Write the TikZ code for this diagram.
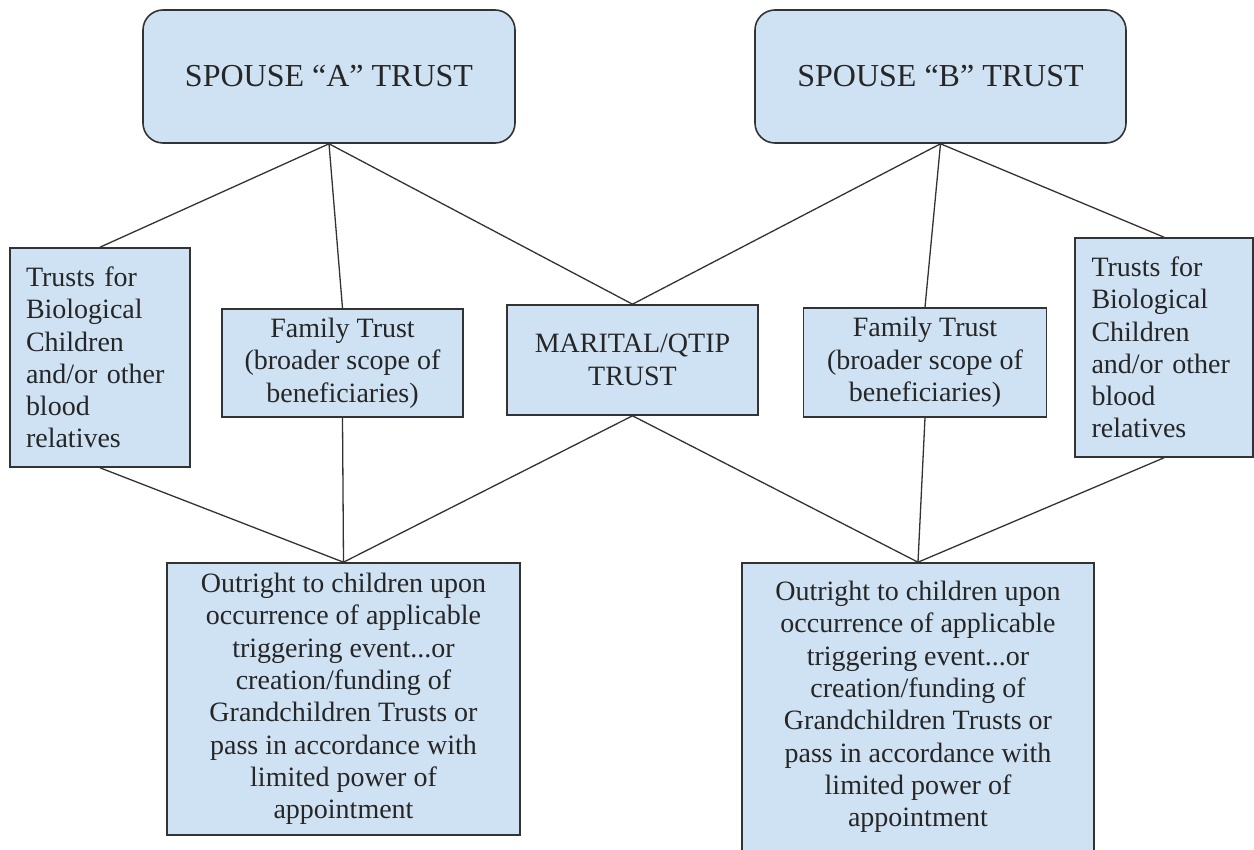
\documentclass[tikz,border=0pt]{standalone}
\usepackage{fontspec}
\newfontfamily\tnr{LiberationSerif}[Extension=.ttf, UprightFont=*-Regular]
\definecolor{boxblue}{HTML}{CFE2F3}
\definecolor{edgegray}{HTML}{333333}
\begin{document}
\begin{tikzpicture}[x=1pt,y=-1pt,
  box/.style={draw=edgegray, fill=boxblue, line width=1.6pt, inner sep=0pt, rectangle,
    font=\tnr\fontsize{28}{32.3}\selectfont, text=black!85},
  spouse/.style={box, rounded corners=20pt, font=\tnr\fontsize{32}{36}\selectfont},
  link/.style={draw=edgegray, line width=1.3pt}]
\useasboundingbox (0,0) rectangle (1254,850);
\fill[white] (0,0) rectangle (1254,850);

\node[spouse, minimum width=372pt, minimum height=133pt] (sa) at (329,76.5) {SPOUSE “A” TRUST};
\node[spouse, minimum width=371pt, minimum height=133pt] (sb) at (940.5,76.5) {SPOUSE “B” TRUST};

\node[box, minimum width=180pt, minimum height=219pt, text width=148pt, align=left] (lt) at (100,357.5)
  {Trusts for\\Biological\\Children\\and/or other\\blood\\relatives};
\node[box, minimum width=241pt, minimum height=108pt, align=center] (fa) at (342.5,363)
  {Family Trust\\(broader scope of\\beneficiaries)};
\node[box, minimum width=251pt, minimum height=110pt, align=center] (mq) at (632.5,360)
  {MARITAL/QTIP\\TRUST};
\node[box, minimum width=243pt, minimum height=109pt, align=center] (fb) at (925,362.5)
  {Family Trust\\(broader scope of\\beneficiaries)};
\node[box, minimum width=178pt, minimum height=219pt, text width=145pt, align=left] (rt) at (1164,347.5)
  {Trusts for\\Biological\\Children\\and/or other\\blood\\relatives};

\node[box, minimum width=353pt, minimum height=272pt, align=center] (ba) at (343.5,699)
  {Outright to children upon\\occurrence of applicable\\triggering event...or\\creation/funding of\\Grandchildren Trusts or\\pass in accordance with\\limited power of\\appointment};
\node[box, minimum width=352pt, minimum height=288pt, align=center] (bb) at (918,707)
  {Outright to children upon\\occurrence of applicable\\triggering event...or\\creation/funding of\\Grandchildren Trusts or\\pass in accordance with\\limited power of\\appointment};

\draw[link] (sa.south) -- (lt.north);
\draw[link] (sa.south) -- (fa.north);
\draw[link] (sa.south) -- (mq.north);
\draw[link] (sb.south) -- (mq.north);
\draw[link] (sb.south) -- (fb.north);
\draw[link] (sb.south) -- (rt.north);

\draw[link] (lt.south) -- (ba.north);
\draw[link] (fa.south) -- (ba.north);
\draw[link] (mq.south) -- (ba.north);
\draw[link] (mq.south) -- (bb.north);
\draw[link] (fb.south) -- (bb.north);
\draw[link] (rt.south) -- (bb.north);
\end{tikzpicture}
\end{document}
